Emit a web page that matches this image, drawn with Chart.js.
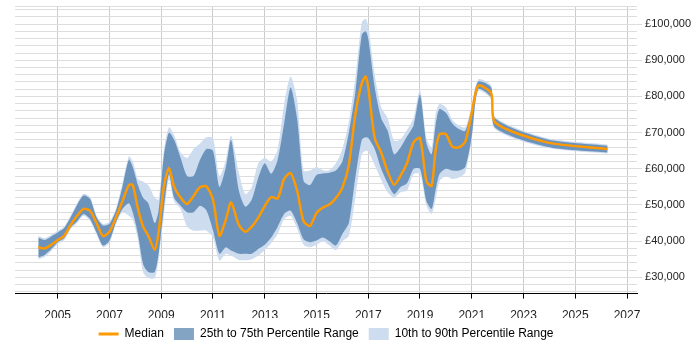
<!DOCTYPE html>
<html>
<head>
<meta charset="utf-8">
<script src="https://cdn.jsdelivr.net/npm/chart.js@4.4.0/dist/chart.umd.min.js"></script>
<style>
  html, body { margin: 0; padding: 0; background: #fff; }
  #wrap { width: 700px; height: 350px; position: relative; }
</style>
</head>
<body>
<div id="wrap"><canvas id="chart"></canvas></div>
<script>
// sample dates (decimal years)
const years = [
  2004.25, 2004.5, 2004.75, 2005.0, 2005.25, 2005.5, 2005.75, 2006.0, 2006.25, 2006.5,
  2006.75, 2007.0, 2007.25, 2007.5, 2007.75, 2007.9, 2008.1, 2008.3, 2008.5, 2008.75,
  2008.9, 2009.1, 2009.3, 2009.5, 2009.75, 2010.0, 2010.25, 2010.5, 2010.75, 2011.0,
  2011.25, 2011.5, 2011.7, 2012.0, 2012.25, 2012.5, 2012.75, 2013.0, 2013.25, 2013.5,
  2013.75, 2014.0, 2014.25, 2014.5, 2014.75, 2015.0, 2015.25, 2015.5, 2015.75, 2016.0,
  2016.25, 2016.5, 2016.75, 2016.9, 2017.0, 2017.25, 2017.5, 2017.75, 2018.0, 2018.25,
  2018.5, 2018.75, 2019.0, 2019.25, 2019.45, 2019.6, 2019.75, 2020.0, 2020.25, 2020.5,
  2020.75, 2021.0, 2021.25, 2021.75, 2021.9, 2023.9, 2026.25
];

const p10 = [
  35000, 35700, 37300, 39200, 40300, 43300, 45000, 47000, 45600, 41900,
  38300, 39600, 44700, 48000, 47000, 46000, 40500, 31400, 29800, 29800,
  35000, 47000, 57000, 51000, 48800, 44000, 42900, 42900, 42900, 41000,
  34600, 36500, 36000, 34800, 34700, 35000, 36000, 37500, 39500, 42000,
  46100, 47000, 43500, 39000, 38300, 39000, 40000, 38800, 37500, 40000,
  41500, 52000, 64000, 65000, 64800, 61000, 57000, 53500, 52000, 53500,
  54000, 58500, 58500, 49800, 47500, 51500, 56500, 58000, 57200, 57600,
  59000, 68000, 81500, 79200, 71000, 65800, 64200
];

const p25 = [
  35500, 36200, 37800, 39700, 40800, 43800, 45500, 47500, 46100, 42400,
  38800, 40100, 45200, 48900, 50500, 48000, 42000, 33700, 31500, 31500,
  36500, 49000, 58500, 52000, 49800, 48000, 48000, 49800, 48500, 43000,
  36500, 38300, 37400, 36500, 36500, 36500, 37800, 39000, 41000, 44000,
  47500, 48400, 45000, 40500, 39700, 40200, 41000, 40000, 38800, 42000,
  45000, 57500, 68000, 68700, 68500, 65500, 60000, 56000, 53000, 55000,
  56000, 60000, 60000, 51000, 48900, 54000, 58500, 60000, 59500, 59500,
  60500, 69000, 82000, 79700, 71400, 66100, 64500
];

const median = [
  38300, 38000, 39000, 40300, 41500, 44500, 47000, 48900, 48400, 45000,
  41400, 42600, 46500, 51000, 55500, 55500, 49000, 44000, 41500, 37600,
  42500, 55000, 60200, 55000, 52000, 50300, 52500, 54900, 55100, 51500,
  41500, 46000, 50700, 44500, 42600, 44000, 46500, 49700, 52200, 51800,
  57200, 58800, 54000, 45500, 44200, 47800, 49300, 50100, 51900, 54800,
  61000, 75000, 83600, 85500, 82500, 68500, 64500, 59200, 55600, 58100,
  61600, 67300, 68500, 56500, 55300, 65000, 69500, 69600, 66100, 65900,
  67500, 75500, 83000, 80900, 72800, 67300, 65500
];

const p75 = [
  41000, 40300, 41300, 42400, 43600, 46600, 50000, 52600, 51700, 46600,
  44300, 44800, 48400, 55000, 62500, 60500, 55500, 52000, 50500, 45000,
  48500, 63500, 70000, 68000, 63000, 58000, 58000, 62500, 65500, 65000,
  55000, 60500, 68000, 54000, 49500, 51500, 57500, 61500, 58600, 62500,
  72500, 82500, 74000, 56700, 55500, 58300, 58700, 58900, 59500, 62000,
  70000, 81000, 97000, 98000, 96000, 82500, 74000, 70500, 64000, 65900,
  69000, 72000, 80500, 67000, 64000, 72000, 76500, 75500, 72500, 71000,
  70500, 76500, 84100, 82500, 74000, 68200, 66400
];

const p90 = [
  41500, 40800, 41800, 42900, 44000, 47100, 50500, 53100, 52200, 47100,
  44800, 45300, 49000, 56000, 63500, 62000, 57200, 56500, 55500, 52000,
  51500, 65000, 71500, 69300, 64500, 63000, 65500, 67000, 68700, 68500,
  58000, 62500, 69200, 59000, 53000, 55000, 61500, 63000, 62000, 65500,
  78000, 85500, 79000, 59500, 59500, 60500, 59600, 59600, 61500, 65500,
  73000, 85000, 100500, 101500, 99500, 86000, 77000, 74000, 67800, 68200,
  70800, 74000, 81800, 68500, 66000, 75000, 77900, 77000, 73500, 72000,
  71500, 77500, 84700, 83000, 74400, 68500, 66700
];

// axis labels
const xTickYears = [2005, 2007, 2009, 2011, 2013, 2015, 2017, 2019, 2021, 2023, 2025, 2027];
const yLabelValues = [30000, 40000, 50000, 60000, 70000, 80000, 90000, 100000];

const X_MIN = 2003.35;
const X_MAX = 2027.39;
const Y_MIN = 25500;
const Y_MAX = 105000;

const LIGHT = '#cddcee';
const DARK = 'rgba(20, 80, 141, 0.52)';
const ORANGE = '#ff9900';
const NONE = 'rgba(0,0,0,0)';

const pts = arr => years.map((x, i) => ({ x: x, y: arr[i] }));

Chart.defaults.font.family = '"Liberation Sans", Arial, sans-serif';
Chart.defaults.font.size = 12;
Chart.defaults.color = '#333';

const bandLine = {
  borderColor: NONE,
  borderWidth: 0,
  pointRadius: 0,
  pointHoverRadius: 0,
  tension: 0.25
};

const ctx = document.getElementById('chart').getContext('2d');

new Chart(ctx, {
  type: 'line',
  data: {
    datasets: [
      { ...bandLine, label: '10th Percentile', data: pts(p10), fill: false, order: 4 },
      { ...bandLine, label: '10th to 90th Percentile Range', data: pts(p90), fill: '-1', backgroundColor: LIGHT, order: 3 },
      { ...bandLine, label: '25th Percentile', data: pts(p25), fill: false, order: 2 },
      { ...bandLine, label: '25th to 75th Percentile Range', data: pts(p75), fill: '-1', backgroundColor: DARK, order: 1 },
      {
        label: 'Median',
        data: pts(median),
        borderColor: ORANGE,
        borderWidth: 2.5,
        pointRadius: 0,
        fill: false,
        tension: 0.25,
        order: 0
      }
    ]
  },
  options: {
    responsive: true,
    maintainAspectRatio: false,
    animation: false,
    layout: {
      padding: { left: 15, top: 6, right: 6, bottom: 0 }
    },
    plugins: {
      tooltip: { enabled: false },
      legend: {
        position: 'bottom',
        fullSize: false,
        labels: {
          usePointStyle: true,
          pointStyleWidth: 20,
          boxHeight: 12,
          padding: 10,
          color: '#222',
          font: { size: 12 },
          generateLabels: () => [
            { text: 'Median', pointStyle: 'line', fillStyle: ORANGE, strokeStyle: ORANGE, lineWidth: 3, datasetIndex: 4 },
            { text: '25th to 75th Percentile Range', pointStyle: 'rect', fillStyle: DARK, strokeStyle: NONE, lineWidth: 0, datasetIndex: 3 },
            { text: '10th to 90th Percentile Range', pointStyle: 'rect', fillStyle: LIGHT, strokeStyle: NONE, lineWidth: 0, datasetIndex: 1 }
          ]
        }
      }
    },
    scales: {
      x: {
        type: 'linear',
        min: X_MIN,
        max: X_MAX,
        afterBuildTicks: (scale) => {
          scale.ticks = xTickYears.map(v => ({ value: v }));
        },
        // pull the axis a little closer to the legend
        afterFit: (scale) => {
          scale.height -= 15;
        },
        grid: {
          color: '#cccccc',
          tickColor: '#000',
          tickLength: 5
        },
        border: { color: '#000', width: 1 },
        ticks: {
          callback: (value) => String(value),
          color: '#222',
          padding: 10,
          maxRotation: 0,
          autoSkip: false
        }
      },
      y: {
        position: 'right',
        min: Y_MIN,
        max: Y_MAX,
        afterBuildTicks: (scale) => {
          // minor lines every 2,000, labels only on the 10,000s
          const ticks = [];
          for (let v = 26000; v <= 104000; v += 2000) ticks.push({ value: v });
          ticks.push({ value: Y_MAX });
          scale.ticks = ticks;
        },
        // the top tick has no label, so no room is needed above it
        afterFit: (scale) => {
          scale.paddingTop = 0;
          scale.paddingBottom = 0;
        },
        grid: {
          color: '#dddddd',
          tickLength: 5,
          tickColor: (c) => (c.tick && yLabelValues.includes(c.tick.value)) ? '#dddddd' : NONE
        },
        border: { display: false },
        ticks: {
          callback: (value) => yLabelValues.includes(value) ? '£' + value.toLocaleString('en-GB') : '',
          color: '#222',
          padding: 3,
          autoSkip: false,
          font: { size: 11 }
        }
      }
    }
  }
});
</script>
</body>
</html>
